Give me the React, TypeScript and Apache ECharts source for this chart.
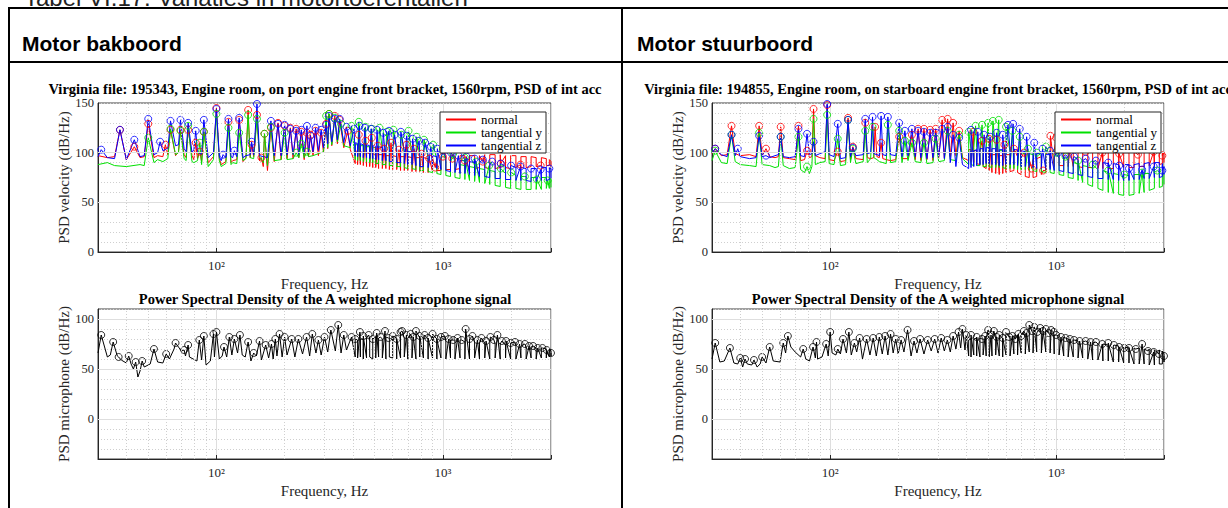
import React, { useEffect, useRef } from "react";
import * as echarts from "echarts";

const SERIF = '"Liberation Serif", "Times New Roman", Times, serif';
const SANS = '"Liberation Sans", Arial, Helvetica, sans-serif';

const caption = "Tabel VI.17: Variaties in motortoerentallen";
const headers = ["Motor bakboord", "Motor stuurboord"];
const topTitles = [
  "Virginia file: 195343, Engine room, on port engine front bracket, 1560rpm, PSD of int acc",
  "Virginia file: 194855, Engine room, on starboard engine front bracket, 1560rpm, PSD of int acc",
];
const bottomTitle = "Power Spectral Density of the A weighted microphone signal";
const seriesNames = ["normal", "tangential y", "tangential z"];
const seriesColors = ["#ff0000", "#00e000", "#0000ff"];
const xMinor = [40, 50, 60, 70, 80, 90, 200, 300, 400, 500, 600, 700, 800, 900, 2000];
const yMajorTop = [50, 100];
const yMajorBottom = [0, 50, 100];

// shared high-frequency band grid (lower and upper edge of the noisy band read at each frequency)
const bandFreq = [410, 420, 432, 445, 460, 475, 490, 505, 520, 540, 560, 580, 600, 625, 650, 675, 700, 730, 760, 790, 820, 860, 900, 940, 980, 1030, 1080, 1130, 1190, 1250, 1310, 1380, 1450, 1530, 1610, 1700, 1790, 1890, 1990, 2100, 2210, 2330, 2450, 2580, 2720, 2860, 2950, 3000];

// ---------- Left top (port engine) ----------
const lowFreqL = [30, 33, 35.5, 40, 46, 48, 53, 55, 58, 61, 66, 68, 72, 73.5, 78, 79.5, 82.5, 86, 92, 97, 103, 105, 110, 116, 118, 123, 131, 135, 141, 146, 155, 161, 168, 180, 193, 205, 218, 231, 244, 255, 267, 282, 297, 310, 323, 342, 365, 390];
const redLowL = [97, 95, 96, 93, 95, 96, 95, 97, 96, 98, 97, 101, 98, 95, 97, 93, 94, 91, 90, 96, 94, 88, 91, 90, 92, 93, 91, 95, 95, 96, 92, 86, 82, 91, 93, 94, 94, 95, 93, 96, 97, 97, 100, 104, 107, 109, 105, 103];
const greenLowL = [88, 90, 87, 86, 88, 87, 90, 93, 91, 94, 98, 100, 94, 92, 91, 90, 92, 88, 86, 93, 92, 86, 89, 88, 90, 89, 92, 94, 95, 94, 96, 90, 87, 92, 93, 93, 94, 95, 95, 96, 97, 99, 101, 105, 108, 111, 107, 105];
const blueLowL = [96, 95, 94, 93, 96, 97, 98, 100, 102, 104, 107, 108, 104, 101, 100, 103, 101, 98, 95, 100, 96, 92, 95, 96, 95, 96, 95, 97, 98, 98, 97, 96, 95, 97, 97, 98, 98, 98, 99, 100, 101, 102, 105, 109, 111, 113, 110, 107];
const redLoL = [89, 88, 88, 87, 86, 86, 85, 85, 84, 84, 84, 83, 83, 83, 82, 82, 82, 81, 81, 81, 80, 80, 81, 82, 82, 83, 83, 83, 84, 84, 84, 84, 85, 85, 84, 84, 85, 85, 84, 85, 85, 85, 86, 86, 86, 87, 87, 86];
const redHiL = [102, 101, 101, 100, 100, 99, 99, 98, 98, 98, 97, 97, 97, 96, 96, 96, 96, 95, 95, 95, 95, 94, 94, 94, 95, 95, 96, 96, 97, 97, 97, 97, 97, 98, 98, 98, 98, 97, 97, 97, 96, 96, 96, 95, 95, 94, 93, 91];
const greenLoL = [93, 92, 92, 91, 91, 90, 90, 89, 89, 88, 88, 87, 87, 86, 86, 85, 84, 84, 83, 82, 82, 81, 80, 79, 78, 77, 76, 75, 74, 73, 72, 71, 70, 69, 68, 67, 66, 65, 64, 64, 63, 63, 63, 63, 63, 64, 64, 65];
const greenHiL = [108, 108, 107, 107, 106, 106, 105, 105, 104, 104, 103, 103, 102, 102, 101, 100, 100, 99, 98, 97, 96, 95, 94, 93, 92, 91, 90, 89, 88, 87, 86, 85, 84, 83, 82, 81, 80, 79, 78, 77, 76, 76, 75, 75, 75, 75, 74, 73];
const blueLoL = [97, 96, 96, 95, 95, 94, 94, 93, 93, 92, 92, 91, 91, 90, 90, 89, 88, 88, 87, 86, 86, 85, 84, 84, 83, 82, 81, 80, 79, 79, 78, 77, 76, 76, 75, 74, 74, 73, 73, 72, 72, 72, 71, 71, 72, 72, 73, 74];
const blueHiL = [110, 109, 109, 108, 108, 107, 107, 106, 106, 105, 105, 104, 104, 103, 103, 102, 101, 101, 100, 99, 99, 98, 97, 96, 96, 95, 94, 93, 92, 92, 91, 90, 90, 89, 88, 88, 87, 86, 86, 85, 85, 84, 84, 84, 85, 85, 85, 84];
const redPeaksL = [[37.5, 123], [43.4, 106], [50, 129], [59.5, 108], [62.7, 123], [69.4, 123], [75, 123], [81, 110], [84.5, 101], [88, 121], [100, 145], [113, 131], [126, 133], [138, 143], [143, 108], [151, 138], [158, 95], [163, 119], [174, 125], [187, 130], [200, 127], [212, 125], [225, 124], [237, 121], [251, 120], [260, 118], [274, 122], [290, 120], [305, 129], [314, 139], [333, 137], [350, 133], [380, 122], [425, 118], [455, 112], [485, 115], [515, 107], [550, 104], [590, 110], [640, 103], [690, 108], [745, 104], [805, 99], [870, 94], [925, 85], [1000, 96], [1100, 94], [1250, 92], [1500, 91], [1800, 89], [2200, 88], [2700, 87]];
const greenPeaksL = [[50, 115], [62.7, 124], [69.4, 122], [75, 127], [84.5, 110], [88, 121], [100, 139], [113, 125], [126, 120], [138, 138], [151, 134], [163, 119], [174, 126], [200, 120], [225, 100], [237, 109], [251, 101], [305, 137], [314, 139], [333, 135], [355, 129], [395, 127], [425, 131], [455, 126], [485, 124], [525, 125], [565, 121], [605, 123], [655, 118], [705, 122], [765, 116], [825, 113], [905, 108], [1000, 104], [1110, 99], [1250, 95], [1400, 91], [1600, 87], [1800, 84], [2000, 80], [2300, 76], [2600, 73], [2900, 72]];
const bluePeaksL = [[31, 103], [37.5, 123], [43.4, 113], [50, 134], [56.4, 111], [62.7, 132], [69.4, 133], [75, 130], [81, 122], [88, 133], [100, 144], [107, 98], [113, 134], [120, 102], [126, 135], [143, 111], [151, 149], [174, 132], [187, 129], [200, 128], [212, 124], [225, 122], [237, 123], [251, 127], [260, 117], [274, 125], [290, 123], [305, 128], [314, 137], [333, 134], [350, 134], [375, 126], [405, 124], [428, 127], [452, 125], [482, 124], [512, 123], [545, 120], [578, 122], [612, 118], [652, 121], [692, 117], [735, 114], [785, 112], [835, 110], [885, 106], [945, 104], [1010, 102], [1085, 100], [1170, 97], [1270, 96], [1380, 94], [1500, 93], [1650, 91], [1800, 89], [2000, 87], [2200, 86], [2450, 84], [2700, 83], [2950, 84]];

// ---------- Right top (starboard engine) ----------
const lowFreqR = [30, 33, 35, 38, 40, 44, 47, 50, 54, 57, 59, 62, 66, 70, 74, 77, 81, 83, 86, 90, 95, 99, 104, 111, 117, 123, 130, 140, 146, 151, 156, 161, 165, 171, 177, 185, 195, 208, 221, 238, 252, 268, 285, 302, 320, 340, 360, 385];
const redLowR = [99, 97, 98, 99, 97, 98, 96, 97, 96, 95, 96, 95, 94, 93, 92, 93, 95, 96, 97, 95, 94, 93, 92, 91, 92, 93, 94, 93, 95, 94, 95, 96, 95, 94, 93, 92, 93, 94, 94, 93, 92, 93, 92, 94, 95, 96, 97, 95];
const greenLowR = [92, 90, 89, 91, 88, 87, 86, 88, 87, 85, 86, 87, 84, 85, 83, 80, 79, 86, 88, 90, 91, 89, 88, 87, 88, 90, 89, 91, 90, 94, 95, 93, 91, 90, 89, 90, 91, 90, 92, 91, 90, 89, 90, 91, 92, 93, 92, 94];
const blueLowR = [100, 98, 96, 97, 96, 94, 95, 96, 95, 97, 98, 96, 95, 96, 97, 96, 98, 99, 97, 99, 101, 98, 96, 94, 95, 96, 97, 98, 99, 100, 99, 98, 97, 98, 97, 98, 97, 96, 97, 96, 95, 94, 95, 96, 94, 90, 86, 88];
const redLoR = [92, 91, 90, 89, 88, 86, 84, 82, 80, 79, 78, 79, 80, 81, 82, 80, 78, 76, 75, 75, 76, 78, 82, 85, 86, 87, 87, 86, 86, 86, 85, 85, 85, 84, 84, 84, 84, 84, 85, 85, 85, 86, 86, 87, 87, 88, 89, 90];
const redHiR = [103, 103, 102, 102, 101, 101, 100, 99, 98, 98, 97, 97, 98, 98, 97, 96, 95, 94, 93, 93, 94, 96, 99, 101, 102, 102, 102, 102, 102, 102, 101, 101, 101, 100, 100, 100, 100, 100, 100, 100, 101, 101, 101, 102, 102, 102, 101, 100];
const greenLoR = [88, 88, 87, 87, 87, 86, 86, 86, 85, 85, 85, 85, 84, 84, 84, 83, 83, 83, 82, 82, 81, 81, 80, 80, 79, 78, 77, 75, 74, 72, 70, 68, 66, 64, 62, 60, 59, 58, 57, 57, 58, 59, 60, 62, 64, 65, 66, 68];
const greenHiR = [104, 104, 105, 105, 104, 104, 104, 103, 103, 103, 102, 102, 102, 101, 101, 100, 100, 99, 99, 98, 98, 97, 96, 96, 95, 94, 93, 92, 90, 89, 87, 86, 84, 83, 82, 80, 79, 78, 78, 77, 78, 78, 79, 79, 80, 80, 80, 78];
const blueLoR = [84, 85, 86, 87, 88, 88, 89, 89, 88, 88, 87, 87, 88, 88, 88, 87, 86, 86, 85, 85, 84, 84, 83, 83, 82, 82, 81, 80, 79, 78, 77, 76, 75, 74, 74, 73, 73, 72, 72, 72, 73, 73, 74, 74, 75, 75, 76, 78];
const blueHiR = [100, 101, 102, 103, 104, 104, 105, 105, 104, 104, 103, 103, 104, 104, 103, 103, 102, 101, 100, 100, 99, 99, 98, 98, 97, 97, 96, 95, 94, 93, 92, 91, 91, 90, 90, 89, 89, 88, 88, 88, 88, 89, 89, 90, 90, 90, 89, 86];
const redPeaksR = [[31, 104], [36.6, 127], [48.5, 127], [52, 104], [60.4, 126], [72.4, 127], [79, 102], [84.4, 144], [97, 148], [108, 101], [120, 135], [126, 106], [143, 130], [158, 126], [168, 110], [202, 116], [230, 118], [245, 124], [260, 124], [277, 123], [293, 124], [313, 133], [331, 134], [350, 130], [372, 122], [430, 121], [470, 112], [505, 114], [545, 113], [590, 108], [650, 104], [720, 100], [780, 84], [875, 82], [943, 117], [1000, 115], [1150, 104], [1350, 101], [1600, 100], [1900, 99], [2300, 98], [2700, 101], [2950, 97]];
const greenPeaksR = [[31, 102], [36.6, 118], [48.5, 120], [60.4, 116], [72.4, 116], [79, 86], [84.4, 134], [97, 138], [108, 114], [120, 133], [126, 104], [143, 122], [154, 126], [180, 128], [202, 122], [214, 112], [230, 110], [260, 110], [293, 114], [331, 122], [372, 118], [410, 121], [440, 127], [470, 128], [500, 130], [525, 132], [557, 133], [600, 126], [640, 122], [690, 116], [750, 104], [820, 100], [900, 106], [1000, 100], [1100, 96], [1250, 92], [1450, 88], [1700, 82], [2000, 78], [2400, 80], [2800, 82]];
const bluePeaksR = [[31, 104], [36.6, 118], [39, 104], [48.5, 117], [52, 97], [60.4, 116], [72.4, 124], [79, 119], [84.4, 111], [97, 149], [108, 129], [120, 133], [126, 105], [143, 134], [154, 136], [168, 137], [180, 136], [202, 130], [214, 122], [230, 124], [245, 122], [260, 121], [277, 120], [293, 120], [313, 124], [331, 126], [350, 118], [372, 115], [420, 123], [450, 121], [480, 118], [510, 116], [545, 120], [580, 118], [612, 128], [645, 129], [690, 124], [740, 116], [800, 110], [870, 104], [940, 102], [1020, 100], [1100, 98], [1200, 96], [1350, 94], [1500, 92], [1700, 90], [1900, 87], [2100, 84], [2400, 83], [2700, 86], [2950, 82]];

// ---------- Left bottom (microphone, port) ----------
const lowFreqBL = [30, 33, 34, 36.5, 38, 40, 42, 43, 45, 46, 48, 51, 55, 58, 62, 65, 68, 70, 73, 76, 79, 82, 86, 90, 94, 98, 103, 106, 111, 117, 124, 130, 134, 142, 150, 158, 170, 178, 185, 195, 205, 222, 240, 258, 275, 290, 310, 335, 355, 375];
const micLowBL = [66, 62, 64, 63, 59, 56, 55, 50, 42, 48, 52, 55, 57, 56, 60, 70, 72, 68, 63, 62, 60, 58, 59, 54, 58, 62, 60, 63, 62, 64, 66, 64, 62, 58, 63, 59, 61, 60, 63, 62, 64, 62, 65, 63, 66, 64, 67, 68, 66, 69];
const micLoBL = [62, 61, 62, 60, 61, 62, 60, 61, 62, 61, 60, 62, 61, 60, 61, 62, 60, 61, 60, 62, 61, 60, 61, 60, 61, 60, 61, 60, 61, 60, 60, 61, 60, 61, 60, 61, 60, 61, 60, 60, 61, 60, 61, 60, 61, 61, 62, 63];
const micHiBL = [78, 79, 80, 80, 81, 80, 81, 82, 81, 80, 82, 81, 80, 81, 82, 81, 80, 81, 80, 81, 80, 80, 79, 80, 79, 78, 79, 78, 78, 77, 77, 77, 76, 76, 75, 75, 75, 74, 74, 73, 73, 72, 72, 71, 71, 70, 70, 68];
const micPeaksBL = [[31, 84], [35, 77], [37, 62], [41, 63], [44, 57], [47, 58], [53, 70], [60, 65], [66, 76], [72, 69], [75, 74], [84, 79], [88, 83], [97, 85], [100, 87], [108, 72], [114, 82], [120, 80], [127, 84], [138, 77], [146, 66], [155, 78], [165, 74], [175, 75], [182, 80], [190, 85], [200, 82], [215, 80], [230, 80], [250, 82], [265, 85], [282, 79], [300, 82], [320, 89], [345, 94], [365, 84], [395, 82], [410, 80], [430, 87], [445, 83], [470, 84], [490, 80], [510, 86], [530, 82], [555, 88], [575, 81], [600, 83], [625, 80], [650, 87], [660, 88], [690, 84], [720, 85], [740, 82], [760, 88], [790, 83], [830, 84], [860, 81], [900, 85], [940, 80], [980, 82], [1020, 83], [1060, 80], [1110, 79], [1160, 81], [1210, 79], [1260, 90], [1310, 80], [1350, 83], [1420, 79], [1480, 81], [1550, 78], [1620, 82], [1680, 79], [1740, 84], [1820, 78], [1900, 78], [1990, 76], [2080, 77], [2180, 75], [2300, 75], [2400, 73], [2500, 73], [2620, 71], [2750, 71], [2870, 69], [3000, 66]];

// ---------- Right bottom (microphone, starboard) ----------
const lowFreqBR = [30, 32.5, 34, 37.5, 39, 41, 43, 45, 47.5, 49, 52, 56, 60, 63.5, 67, 70, 74, 78, 81, 86, 88, 92, 98, 102, 106, 111, 118, 124, 131, 139, 150, 160, 170, 180, 190, 200, 212, 228, 242, 260, 280, 300, 320, 340, 360, 378, 395];
const micLowBR = [60, 57, 58, 56, 55, 52, 55, 54, 52, 55, 56, 58, 57, 66, 72, 67, 62, 60, 58, 61, 60, 62, 63, 66, 64, 65, 66, 64, 67, 60, 64, 63, 65, 64, 66, 65, 67, 63, 66, 65, 68, 66, 68, 67, 70, 71, 69];
const micLoBR = [63, 62, 64, 63, 62, 64, 63, 62, 63, 64, 63, 62, 64, 63, 65, 64, 66, 65, 67, 66, 67, 66, 67, 66, 65, 64, 63, 62, 62, 61, 61, 60, 59, 59, 58, 58, 57, 57, 56, 56, 55, 55, 55, 54, 54, 55, 55, 57];
const micHiBR = [79, 80, 80, 81, 81, 80, 81, 81, 80, 81, 82, 81, 82, 83, 83, 84, 84, 85, 86, 86, 86, 85, 85, 84, 84, 83, 82, 80, 79, 78, 77, 77, 76, 75, 75, 74, 73, 73, 72, 72, 71, 71, 70, 70, 69, 69, 68, 65];
const micPeaksBR = [[31, 76], [36, 71], [40, 61], [42, 60], [46, 59], [50, 62], [54, 72], [62, 76], [65, 83], [76, 70], [84, 72], [87, 77], [96, 75], [100, 87], [108, 70], [114, 80], [121, 87], [128, 76], [135, 81], [145, 80], [155, 81], [165, 82], [175, 83], [185, 85], [195, 80], [206, 79], [220, 89], [235, 78], [250, 80], [270, 79], [290, 80], [310, 81], [330, 79], [350, 83], [370, 87], [385, 90], [400, 84], [420, 84], [445, 82], [470, 80], [485, 83], [500, 89], [515, 84], [530, 88], [545, 82], [560, 84], [580, 81], [600, 87], [620, 82], [640, 83], [660, 80], [680, 85], [700, 83], [720, 88], [740, 86], [760, 94], [780, 88], [800, 92], [825, 87], [850, 91], [875, 88], [900, 90], [925, 86], [950, 89], [975, 87], [1000, 84], [1050, 82], [1100, 81], [1150, 80], [1200, 79], [1270, 78], [1350, 78], [1420, 77], [1500, 77], [1600, 75], [1700, 76], [1800, 74], [1900, 72], [2000, 71], [2100, 71], [2250, 70], [2400, 75], [2550, 68], [2700, 67], [2850, 65], [3000, 63]];

// low-region points, then the band drawn as vertical strokes between its read lower/upper edges, plus the peaks
function buildLine(lowF: number[], lowV: number[], bandF: number[], bandLo: number[], bandHi: number[], peaks: number[][]) {
  const pts: number[][] = [];
  lowF.forEach((f, i) => pts.push([f, lowV[i]]));
  bandF.forEach((f, i) => {
    if (i % 2 === 0) {
      pts.push([f, bandLo[i]]);
      pts.push([f, bandHi[i]]);
    } else {
      pts.push([f, bandHi[i]]);
      pts.push([f, bandLo[i]]);
    }
  });
  peaks.forEach((p) => pts.push([p[0], p[1]]));
  pts.sort((a, b) => a[0] - b[0]);
  return pts;
}

const GRIDS = [
  { left: 98, top: 103, width: 453, height: 149 },
  { left: 98, top: 309, width: 453, height: 150 },
  { left: 712, top: 103, width: 452, height: 149 },
  { left: 712, top: 309, width: 452, height: 150 },
];

export default function App() {
  const ref = useRef<HTMLDivElement>(null);
  useEffect(() => {
    if (!ref.current) return;
    const chart = echarts.init(ref.current, undefined, { renderer: "svg" });
    const axisColor = "#262626";
    const minorLine = { color: "#cfcfcf", width: 1, type: [1, 2] as any };
    const majorLine = { color: "#dedede", width: 1, type: "solid" as any };

    const xAxes = GRIDS.map((_, i) => ({
      type: "log",
      gridIndex: i,
      min: 30,
      max: 3000,
      logBase: 10,
      axisLine: { show: true, onZero: false, lineStyle: { color: axisColor } },
      axisTick: { show: true, inside: true, length: 4, lineStyle: { color: axisColor } },
      splitLine: { show: true, lineStyle: majorLine },
      axisLabel: {
        margin: 7,
        color: axisColor,
        fontFamily: SERIF,
        fontSize: 13,
        formatter: (v: number) => (Math.abs(v - 100) < 1 ? "10²" : Math.abs(v - 1000) < 1 ? "10³" : ""),
      },
      name: "Frequency, Hz",
      nameLocation: "middle",
      nameGap: 24,
      nameTextStyle: { color: axisColor, fontFamily: SERIF, fontSize: 15 },
    }));

    const yAxes = GRIDS.map((_, i) => {
      const top = i % 2 === 0;
      return {
        type: "value",
        gridIndex: i,
        min: top ? 0 : -40,
        max: top ? 150 : 110,
        interval: 10,
        axisLine: { show: true, lineStyle: { color: axisColor } },
        axisTick: { show: false },
        splitLine: { show: true, lineStyle: minorLine },
        axisLabel: {
          margin: 4,
          color: axisColor,
          fontFamily: SERIF,
          fontSize: 12.5,
          formatter: (v: number) => (Math.round(v) % 50 === 0 ? String(Math.round(v)) : ""),
        },
        name: top ? "PSD velocity (dB/Hz)" : "PSD microphone (dB/Hz)",
        nameLocation: "middle",
        nameGap: 25,
        nameTextStyle: { color: axisColor, fontFamily: SERIF, fontSize: 15 },
      };
    });

    const series: any[] = [];
    GRIDS.forEach((_, i) => {
      const top = i % 2 === 0;
      series.push({
        type: "line",
        xAxisIndex: i,
        yAxisIndex: i,
        data: [],
        silent: true,
        z: 1,
        markLine: {
          silent: true,
          symbol: ["none", "none"],
          label: { show: false },
          animation: false,
          data: [
            ...xMinor.map((f) => ({ xAxis: f, lineStyle: minorLine })),
            ...(top ? yMajorTop : yMajorBottom).map((v) => ({ yAxis: v, lineStyle: majorLine })),
          ],
        },
      });
    });

    const topSets = [
      {
        grid: 0,
        lines: [
          buildLine(lowFreqL, redLowL, bandFreq, redLoL, redHiL, redPeaksL),
          buildLine(lowFreqL, greenLowL, bandFreq, greenLoL, greenHiL, greenPeaksL),
          buildLine(lowFreqL, blueLowL, bandFreq, blueLoL, blueHiL, bluePeaksL),
        ],
        peaks: [redPeaksL, greenPeaksL, bluePeaksL],
      },
      {
        grid: 2,
        lines: [
          buildLine(lowFreqR, redLowR, bandFreq, redLoR, redHiR, redPeaksR),
          buildLine(lowFreqR, greenLowR, bandFreq, greenLoR, greenHiR, greenPeaksR),
          buildLine(lowFreqR, blueLowR, bandFreq, blueLoR, blueHiR, bluePeaksR),
        ],
        peaks: [redPeaksR, greenPeaksR, bluePeaksR],
      },
    ];
    topSets.forEach((set) => {
      set.lines.forEach((d, k) => {
        series.push({
          type: "line",
          name: seriesNames[k],
          xAxisIndex: set.grid,
          yAxisIndex: set.grid,
          data: d,
          showSymbol: false,
          symbol: "none",
          lineStyle: { color: seriesColors[k], width: 1 },
          itemStyle: { color: seriesColors[k] },
          z: 2,
        });
      });
      set.peaks.forEach((d, k) => {
        series.push({
          type: "scatter",
          name: seriesNames[k] + " peaks",
          xAxisIndex: set.grid,
          yAxisIndex: set.grid,
          data: d,
          symbol: "circle",
          symbolSize: 7,
          itemStyle: { color: "rgba(0,0,0,0)", borderColor: seriesColors[k], borderWidth: 1 },
          z: 3,
        });
      });
    });

    const micSets = [
      { grid: 1, line: buildLine(lowFreqBL, micLowBL, bandFreq, micLoBL, micHiBL, micPeaksBL), peaks: micPeaksBL },
      { grid: 3, line: buildLine(lowFreqBR, micLowBR, bandFreq, micLoBR, micHiBR, micPeaksBR), peaks: micPeaksBR },
    ];
    micSets.forEach((m) => {
      series.push({
        type: "line",
        name: "microphone",
        xAxisIndex: m.grid,
        yAxisIndex: m.grid,
        data: m.line,
        showSymbol: false,
        symbol: "none",
        lineStyle: { color: "#000", width: 1 },
        z: 2,
      });
      series.push({
        type: "scatter",
        name: "microphone peaks",
        xAxisIndex: m.grid,
        yAxisIndex: m.grid,
        data: m.peaks,
        symbol: "circle",
        symbolSize: 7,
        itemStyle: { color: "rgba(0,0,0,0)", borderColor: "#000", borderWidth: 1 },
        z: 3,
      });
    });

    const legendBase = {
      orient: "vertical",
      top: 112,
      data: seriesNames,
      icon: "rect",
      itemWidth: 30,
      itemHeight: 2,
      itemGap: 0,
      padding: [1, 4, 1, 6],
      backgroundColor: "#fff",
      borderColor: axisColor,
      borderWidth: 1,
      borderRadius: 0,
      selectedMode: false,
      textStyle: { fontFamily: SERIF, fontSize: 13, lineHeight: 13, color: "#000" },
      z: 10,
    };

    const lineStyle = { stroke: "#000", lineWidth: 2 };
    const titleFont = `bold 14.5px ${SERIF}`;
    const graphic: any[] = [
      { type: "text", x: 24, y: -3, style: { text: caption, font: `24px ${SANS}`, fill: "#222", textVerticalAlign: "middle" } },
      { type: "line", shape: { x1: 9, y1: 8, x2: 1228, y2: 8 }, style: lineStyle },
      { type: "line", shape: { x1: 9, y1: 62, x2: 1228, y2: 62 }, style: lineStyle },
      { type: "line", shape: { x1: 9, y1: 7, x2: 9, y2: 508 }, style: lineStyle },
      { type: "line", shape: { x1: 622, y1: 7, x2: 622, y2: 508 }, style: lineStyle },
      { type: "text", x: 22, y: 43, style: { text: headers[0], font: `bold 21px ${SANS}`, fill: "#000", textVerticalAlign: "middle" } },
      { type: "text", x: 637, y: 43, style: { text: headers[1], font: `bold 21px ${SANS}`, fill: "#000", textVerticalAlign: "middle" } },
      { type: "text", x: 325, y: 89, style: { text: topTitles[0], font: titleFont, fill: "#000", textAlign: "center", textVerticalAlign: "middle" } },
      { type: "text", x: 938, y: 89, style: { text: topTitles[1], font: titleFont, fill: "#000", textAlign: "center", textVerticalAlign: "middle" } },
      { type: "text", x: 325, y: 299, style: { text: bottomTitle, font: titleFont, fill: "#000", textAlign: "center", textVerticalAlign: "middle" } },
      { type: "text", x: 938, y: 299, style: { text: bottomTitle, font: titleFont, fill: "#000", textAlign: "center", textVerticalAlign: "middle" } },
    ];

    chart.setOption({
      animation: false,
      backgroundColor: "#fff",
      grid: GRIDS.map((g) => ({ ...g, show: true, borderColor: "#404040", borderWidth: 1, backgroundColor: "transparent" })),
      xAxis: xAxes,
      yAxis: yAxes,
      legend: [
        { ...legendBase, left: 440 },
        { ...legendBase, left: 1055 },
      ],
      series,
      graphic,
    });
    return () => chart.dispose();
  }, []);
  return <div ref={ref} style={{ position: "absolute", left: 0, top: 0, width: 1228, height: 508 }} />;
}
